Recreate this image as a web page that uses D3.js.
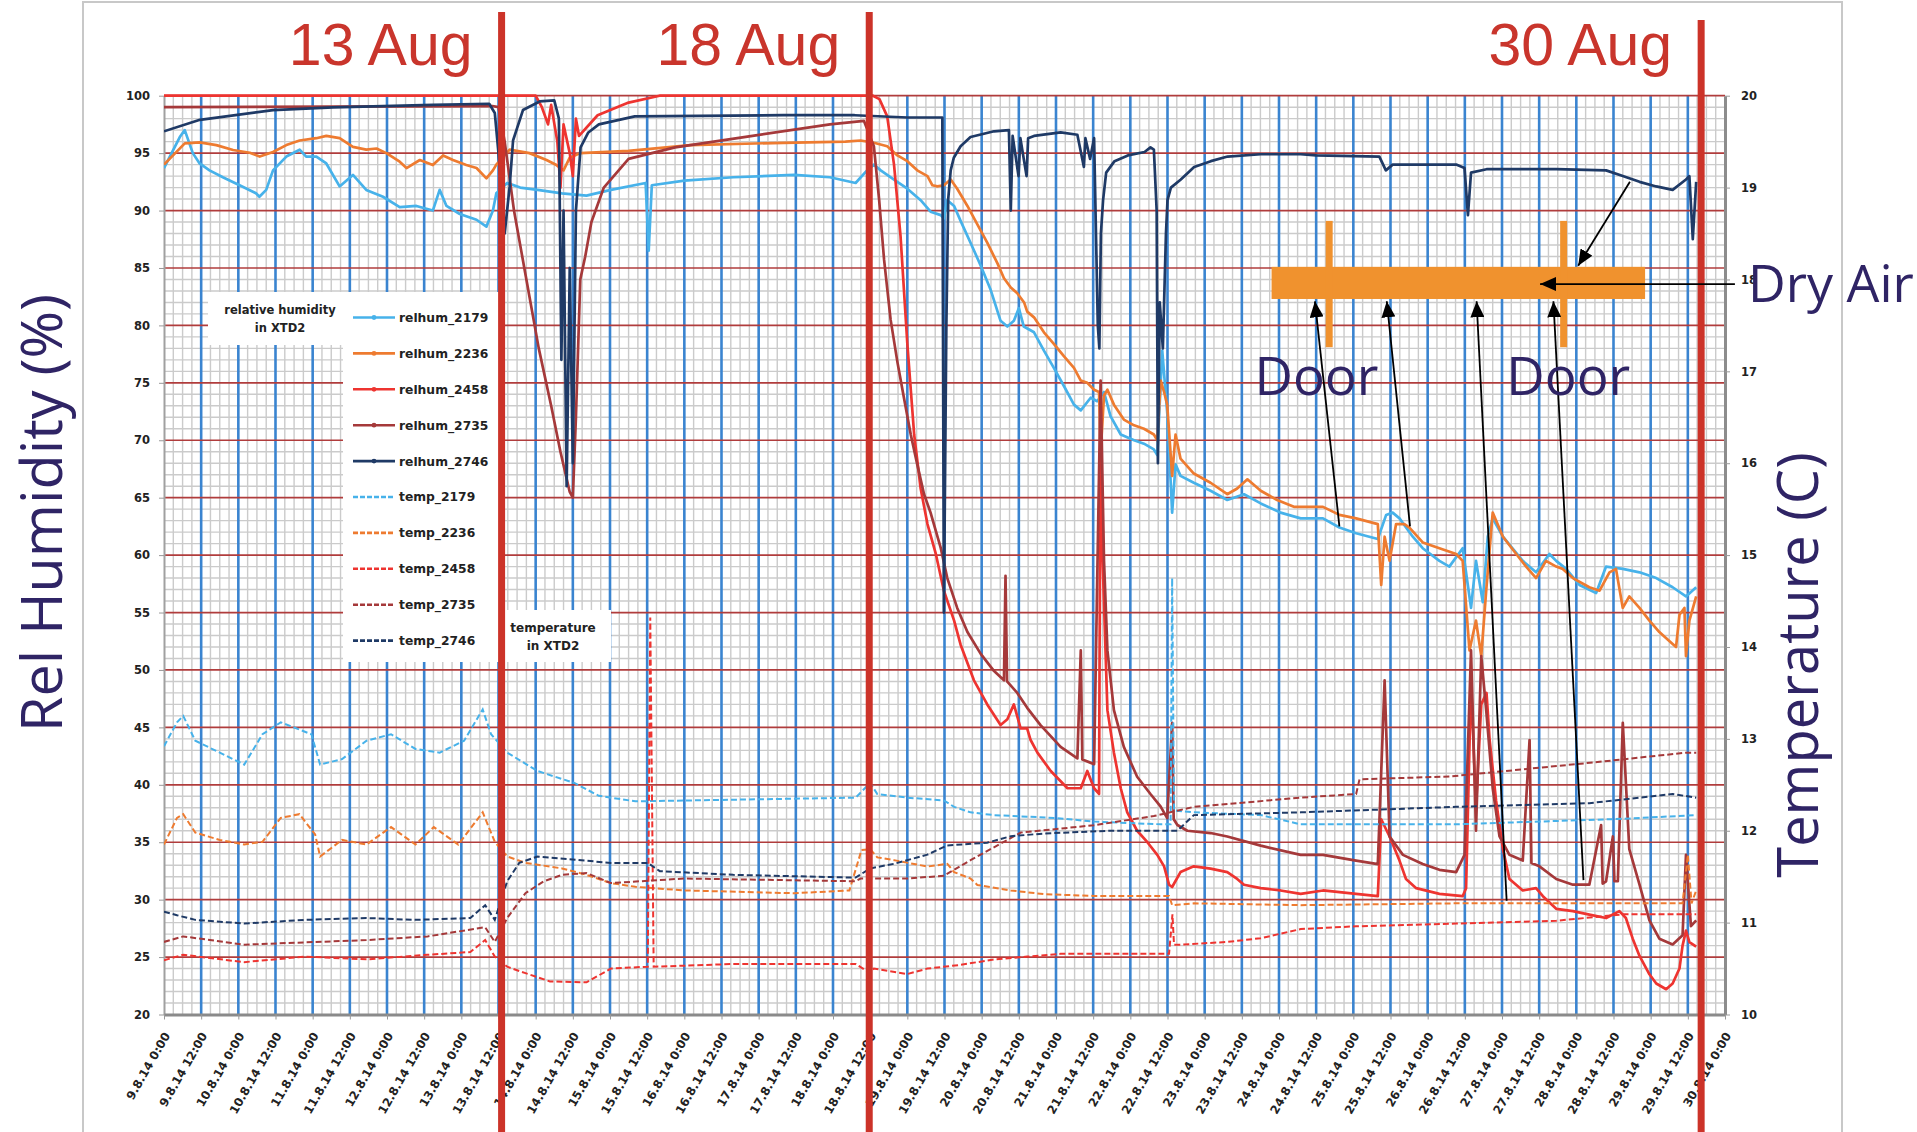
<!DOCTYPE html>
<html><head><meta charset="utf-8">
<script src="https://cdn.jsdelivr.net/npm/d3@7"></script>
<style>body{margin:0;background:#fff}svg{display:block}</style>
</head><body>
<svg id="c" width="1917" height="1132"></svg>
<script>
// ---------- DATA (hours since 9.8.14 0:00) ----------
const xTickLabels = ["9.8.14 0:00","9.8.14 12:00","10.8.14 0:00","10.8.14 12:00","11.8.14 0:00","11.8.14 12:00","12.8.14 0:00","12.8.14 12:00","13.8.14 0:00","13.8.14 12:00","14.8.14 0:00","14.8.14 12:00","15.8.14 0:00","15.8.14 12:00","16.8.14 0:00","16.8.14 12:00","17.8.14 0:00","17.8.14 12:00","18.8.14 0:00","18.8.14 12:00","19.8.14 0:00","19.8.14 12:00","20.8.14 0:00","20.8.14 12:00","21.8.14 0:00","21.8.14 12:00","22.8.14 0:00","22.8.14 12:00","23.8.14 0:00","23.8.14 12:00","24.8.14 0:00","24.8.14 12:00","25.8.14 0:00","25.8.14 12:00","26.8.14 0:00","26.8.14 12:00","27.8.14 0:00","27.8.14 12:00","28.8.14 0:00","28.8.14 12:00","29.8.14 0:00","29.8.14 12:00","30.8.14 0:00"];
const xTickHours = [0,12,24,36,48,60,72,84,96,108,120,132,144,156,168,180,192,204,216,228,240,252,264,276,288,300,312,324,336,348,360,372,384,396,408,420,432,444,456,468,480,492,504];
const rhTicks = [20,25,30,35,40,45,50,55,60,65,70,75,80,85,90,95,100];
const tTicks = [10,11,12,13,14,15,16,17,18,19,20];

const relhum_2179 = [[0,93.7],[5.1,96.4],[6.7,97.0],[9.3,95.0],[11.5,94.1],[14.7,93.5],[19,92.9],[24.4,92.2],[29.7,91.5],[30.8,91.2],[33,91.8],[35.2,93.5],[39.5,94.7],[43.8,95.3],[45.9,94.7],[49.2,94.7],[52.4,94.1],[56.7,92.1],[61,93.1],[65.3,91.8],[70.7,91.2],[76.1,90.3],[81.5,90.4],[86.8,90.0],[89,91.8],[91.2,90.4],[95.5,89.7],[100.9,89.2],[104.1,88.6],[106.2,90.0],[107.3,91.5],[110.8,92.4],[115,92.0],[120.6,91.8],[128.5,91.5],[136.4,91.3],[144.3,91.8],[155.5,92.4],[156.5,86.5],[157.5,92.2],[168,92.6],[183.8,92.9],[203.5,93.1],[215,92.9],[223.3,92.4],[227,93.5],[229.2,94.0],[231.4,93.5],[235.7,92.7],[240,91.9],[244.3,90.9],[247.5,89.9],[250.8,89.6],[251.8,89.3],[252.9,90.9],[255.1,90.4],[257.2,89.1],[260.4,87.2],[263.7,85.2],[266.9,83.1],[270.1,80.4],[272.3,79.9],[274.4,80.4],[276,81.5],[277.6,79.9],[280.9,79.4],[284.1,77.8],[287.3,76.3],[290.6,74.7],[293.8,73.1],[296,72.6],[299.2,73.7],[301.3,73.4],[303.5,74.2],[305.6,72.1],[308.9,70.5],[313.2,70.0],[316.4,69.7],[319.6,69.2],[320.7,68.7],[322.3,77.8],[324,72.1],[325.5,63.7],[326.6,67.9],[328.2,66.9],[332.5,66.3],[337.9,65.6],[343.3,64.8],[348.7,65.3],[354.1,64.5],[360.5,63.7],[367,63.2],[374.2,63.2],[379.5,62.4],[384.9,61.9],[391.9,61.4],[394.6,63.5],[396.7,63.7],[398.9,63.2],[403.2,61.6],[406.4,60.6],[411.8,59.5],[415,59.0],[419.3,60.6],[422,55.4],[423.6,59.5],[425.8,55.9],[427.4,61.6],[429,63.2],[432.3,61.6],[438.7,59.5],[443,58.5],[447.3,60.1],[449.5,59.5],[452.7,58.8],[457,57.4],[462.4,56.7],[465.6,59.0],[471,58.8],[476.4,58.5],[481.8,58.0],[487.1,57.2],[491.4,56.4],[494.7,57.2]];

const relhum_2236 = [[0,94.0],[6.7,95.85],[11.5,95.94],[16.9,95.7],[22.3,95.27],[27.7,95.03],[30.9,94.7],[35.2,95.1],[39.5,95.7],[43.8,96.1],[49.2,96.3],[52.4,96.5],[56.7,96.3],[61,95.55],[65.3,95.3],[68.6,95.4],[71.8,95.0],[76.1,94.25],[78.3,93.7],[82.6,94.4],[86.8,93.96],[90.1,94.8],[93.3,94.4],[97.6,93.96],[100.9,93.7],[104.1,92.8],[106.2,93.5],[107.3,94.0],[111.6,95.3],[118,95.0],[123.5,94.4],[126.7,93.96],[129,93.5],[131,94.6],[134.4,95.0],[150,95.2],[170,95.7],[200,95.9],[220,96.0],[224.9,96.1],[229.2,95.9],[233.5,95.6],[236.8,94.8],[240,94.3],[243.2,93.5],[246.5,93.0],[248.1,92.2],[249.7,92.1],[251.8,92.2],[254,92.7],[256.1,91.9],[259.4,90.4],[262.6,88.8],[265.8,87.2],[269.1,85.4],[271.2,84.1],[273.4,83.3],[275.5,82.8],[277.7,82.0],[278.7,81.2],[280.9,80.7],[284.1,79.4],[287.3,78.4],[290.6,77.3],[293.8,76.3],[296,75.2],[298.1,75.0],[300.3,74.4],[301.9,74.2],[302.4,68.9],[303.5,73.9],[304.6,74.4],[306.7,73.1],[309.9,71.8],[313.2,71.3],[316.4,71.0],[319.6,70.5],[320.7,70.0],[321.8,75.2],[322.9,74.2],[323.9,73.1],[325.5,66.9],[326.6,70.5],[328.2,68.4],[332.5,67.1],[337.9,66.3],[343.3,65.3],[346.5,65.8],[349.8,66.6],[354.1,65.6],[359.4,64.8],[364.8,64.2],[368.8,64.2],[374.2,64.2],[379.5,63.5],[384.9,63.2],[391.9,62.7],[393,57.4],[394.1,61.6],[395.7,59.5],[397.8,62.7],[400.5,62.7],[402.1,62.4],[406.4,61.1],[411.8,60.6],[417.2,60.1],[419.3,59.5],[421.5,51.7],[423.6,54.3],[425.3,51.2],[426.9,56.9],[429,63.7],[432.3,61.6],[436.6,60.1],[439.8,59.0],[443,58.0],[446.2,59.5],[449.5,59.0],[451.6,58.8],[454.9,58.0],[460.2,57.2],[463.5,56.9],[466.7,58.5],[468.8,58.8],[471,55.4],[473.1,56.4],[476.4,55.4],[479.6,54.3],[482.8,53.3],[486.1,52.5],[488.2,52.0],[489.3,54.8],[490.9,55.4],[491.4,51.2],[492.5,54.3],[494.7,56.4]];

const relhum_2458 = [[0,100],[120,100],[122,99],[124,97.5],[125,99.2],[127,96],[128,92],[129,97.5],[131,95],[132,93],[133,98],[134,96.5],[140,98.3],[150,99.4],[160,100],[228.9,100],[231,99.7],[233.5,98.2],[235.7,94],[237.8,87.8],[240,78.4],[242.2,70.5],[244.3,65.8],[246.5,62.7],[249.2,60.1],[251.8,56.9],[255.1,54.3],[257.2,52.2],[261.5,49.1],[265.8,47.0],[270.1,45.2],[272.3,45.7],[274.4,47.0],[276.6,44.9],[278.7,44.9],[279.8,43.9],[282,42.8],[286.3,41.2],[291.7,39.7],[296,39.7],[298.1,41.2],[300.3,39.7],[301.9,39.2],[302.4,74.2],[303,60],[304.6,46.5],[306.7,42.8],[308.9,39.7],[311,37.6],[314.2,36.0],[317.5,35.0],[320.7,33.9],[322.9,32.9],[324.5,31.3],[325.5,31.1],[328.2,32.4],[332.5,32.9],[337.9,32.7],[343.3,32.4],[346.5,31.8],[348.7,31.3],[354.1,31.0],[360.5,30.8],[367,30.5],[374.2,30.8],[384.9,30.5],[391.9,30.3],[393,37],[395.7,35.5],[398.9,33.4],[401,31.8],[404.3,31.0],[411.8,30.5],[419.3,30.3],[420.4,31],[422,49],[423.6,38],[425.3,47],[427,48],[428,43.9],[430.1,38.6],[432.3,34.4],[434.4,31.8],[438.7,30.8],[443,31.0],[445.2,30.3],[449.5,29.2],[454.9,29.0],[460.2,28.7],[465.6,28.4],[469.9,29.0],[472,28.4],[474.2,26.6],[476.4,25.1],[479.6,23.5],[481.8,22.7],[485,22.2],[487.1,22.7],[489.3,24.0],[490.3,26],[491.4,27.3],[492.5,26.3],[494.7,25.9]];

const relhum_2735 = [[0,99.0],[106,99.1],[108,99],[110,96],[113,90],[117,84],[121,78],[125,73],[128,69],[131,65.5],[132,65],[133,72],[134.4,84],[136,86],[138,89],[142,92],[150,94.5],[165,95.5],[190,96.5],[215,97.5],[226,97.8],[229.2,95.6],[230.9,90.9],[232.5,85.7],[234.6,80.5],[236.8,76.8],[238.9,73.7],[241.1,70.5],[243.2,67.9],[245.4,65.3],[247.5,63.7],[250.8,60.6],[252.9,58.0],[256.1,55.4],[259.4,53.3],[263.7,51.4],[268,49.9],[271.2,49.1],[271.7,58.2],[272.2,49],[275.5,48.0],[278.7,46.7],[283,45.2],[289.5,43.3],[294.9,42.3],[296,51.7],[296.5,42.2],[300.3,41.8],[302.4,75.2],[303.5,59.5],[304.6,51.7],[306.7,46.5],[309.9,43.3],[314.2,40.7],[318.5,39.2],[321.8,38.1],[323.9,37.1],[325.5,45.4],[326,37],[327.2,36.5],[330.4,36.0],[337.9,35.8],[343.3,35.5],[354.1,34.7],[367,33.9],[374.2,33.9],[384.9,33.4],[391.9,33.1],[394.1,49.1],[395.7,35.5],[400,33.9],[406.4,33.1],[411.8,32.6],[417.2,32.4],[419.9,33.9],[422,51.7],[423.6,36.0],[425.3,51.2],[426.9,46.5],[429,39.7],[431.2,35.5],[434.4,33.9],[438.7,33.4],[440.9,43.9],[441.5,33.2],[444.1,32.9],[449.5,31.8],[454.9,31.3],[460.2,31.3],[464,36.5],[464.5,31.4],[465.6,31.6],[467.8,35.5],[468.3,31.6],[469.4,31.6],[471,45.4],[473.1,34.4],[476.4,31.3],[479.6,28.2],[482.8,26.6],[487.1,26.1],[490.3,26.9],[491.4,33.9],[493,27.7],[494.7,28.2]];

const relhum_2746 = [[0,96.9],[11.6,97.9],[35.2,98.75],[54.6,98.99],[86.8,99.2],[105,99.3],[106.8,98.5],[108,95],[110,88],[111.6,92.1],[112.7,96.1],[115.9,98.75],[121.3,99.5],[126,99.6],[127.5,98],[128.3,77],[129,90],[130,66],[131,85],[132,68],[133,90],[134.5,95.5],[137,96.8],[140.4,97.5],[152,98.2],[200,98.3],[223,98.3],[240,98.1],[251.3,98.1],[251.8,55],[252.6,80],[253.2,91],[254,93.5],[255,94.6],[257.2,95.6],[260.4,96.4],[268,96.9],[272.8,97.0],[273.4,90],[274,96.5],[275.9,93],[276.5,96.3],[278.5,93],[279,96.3],[280.9,96.5],[289.5,96.8],[294.9,96.6],[297,93.8],[297.5,96.3],[299,94.5],[300.3,96.3],[301.5,80],[302,78],[302.5,88],[303.2,90.9],[304.2,93.3],[306.9,94.3],[311.2,94.8],[316.6,95.1],[318.5,95.5],[319.6,95.3],[320.5,90],[320.9,68],[321.5,82],[322.5,78],[323.5,88],[324,90.9],[325.1,92],[328.3,92.7],[332.6,93.8],[338,94.3],[343.4,94.7],[354.1,94.9],[367,94.9],[372,94.8],[392.4,94.7],[394.5,93.5],[396.7,94],[417.2,94],[419.9,93.7],[421,89.6],[422,93.3],[427,93.6],[449.5,93.6],[465.6,93.5],[471,93.0],[476.4,92.5],[481.8,92.1],[487.1,91.8],[491.4,92.7],[492.5,93],[493.6,87.5],[494.7,92.5]];

const temp_2179 = [[0,12.92],[4.2,13.18],[6.2,13.25],[10.1,12.98],[18,12.85],[25.9,12.72],[31.8,13.05],[37.7,13.18],[47.6,13.05],[50.4,12.72],[57.5,12.78],[65.4,12.98],[73.3,13.05],[81.2,12.89],[89,12.85],[96.9,12.98],[102.9,13.32],[105.6,13.05],[110.8,12.85],[120.6,12.65],[132.5,12.52],[140.4,12.38],[152.2,12.32],[223.3,12.36],[228,12.52],[230.3,12.4],[240,12.36],[251.8,12.33],[255.1,12.26],[260.4,12.2],[268,12.17],[287.3,12.14],[300.3,12.1],[321.8,12.07],[325,12.07],[325.5,14.75],[326.1,12.22],[332.5,12.2],[354.1,12.17],[367,12.07],[417.2,12.07],[471,12.13],[494.7,12.17]];
const temp_2236 = [[0,11.85],[4.2,12.14],[6.2,12.18],[10.1,11.98],[18,11.9],[25.9,11.85],[31.8,11.88],[37.7,12.14],[43.7,12.18],[48.8,11.96],[50.4,11.72],[57.5,11.9],[65.4,11.85],[73.3,12.04],[81.2,11.85],[87.1,12.04],[95,11.85],[102.9,12.2],[106.8,11.88],[110.8,11.72],[116.7,11.65],[128.5,11.59],[136.4,11.52],[144.3,11.43],[152.2,11.39],[168,11.35],[203.5,11.32],[221.3,11.35],[225.2,11.79],[228,11.8],[230.3,11.71],[235.7,11.68],[246.5,11.61],[252.9,11.64],[255.1,11.55],[260.4,11.48],[262.6,11.41],[273.4,11.35],[284.1,11.31],[300.3,11.29],[324.5,11.29],[325.5,11.19],[332.5,11.21],[367,11.19],[417.2,11.21],[490.3,11.21],[492,11.74],[493.2,11.21],[494.7,11.35]];
const temp_2458 = [[0,10.59],[6.2,10.65],[25.9,10.57],[45.6,10.63],[65.4,10.6],[85.1,10.65],[98.9,10.68],[103.7,10.81],[106.8,10.63],[110.8,10.52],[116.7,10.45],[124.6,10.36],[136.4,10.35],[144.3,10.5],[156.2,10.52],[157,14.32],[158.1,10.52],[183.8,10.55],[223.3,10.55],[228,10.45],[229.2,10.5],[240,10.44],[246.5,10.5],[257.2,10.54],[268,10.6],[278.7,10.63],[289.5,10.66],[324.5,10.66],[325.6,11.09],[326.1,10.76],[328.2,10.76],[343.3,10.79],[354.1,10.83],[367,10.93],[384.9,10.96],[417.2,10.99],[449.5,11.02],[471,11.09],[494.7,11.09]];
const temp_2735 = [[0,10.79],[6.2,10.85],[25.9,10.76],[65.4,10.81],[85.1,10.85],[103.7,10.95],[106.8,10.79],[110.8,11.05],[116.7,11.32],[122.6,11.45],[128.5,11.52],[136.4,11.54],[144.3,11.43],[168,11.48],[223.3,11.45],[224.9,11.48],[240,11.48],[251.8,11.51],[260.4,11.68],[276.6,11.98],[300.3,12.06],[319.6,12.16],[332.5,12.26],[367,12.36],[384.9,12.4],[386,12.56],[415,12.59],[463.5,12.75],[491.4,12.85],[494.7,12.85]];
const temp_2746 = [[0,11.12],[4.2,11.08],[10.1,11.03],[25.9,10.99],[45.6,11.03],[65.4,11.05],[81.2,11.03],[98.9,11.05],[103.7,11.19],[106.8,11.03],[110.8,11.45],[114.7,11.65],[120.6,11.72],[144.3,11.65],[156.2,11.65],[160.1,11.56],[183.8,11.52],[223.3,11.49],[228,11.59],[235.7,11.64],[246.5,11.74],[252.9,11.84],[265.8,11.87],[273.4,11.94],[284.1,11.97],[305.6,12.0],[327.2,12.0],[332.5,12.17],[367,12.2],[417.2,12.26],[460.2,12.3],[487.1,12.4],[494.7,12.36]];

const sensors = ["2179","2236","2458","2735","2746"];
const sensorColors = ["#47b2ea","#ee7b30","#ee3430","#a5393a","#1f3a66"];
const markers = [{label:"13 Aug",h:109.0},{label:"18 Aug",h:227.7},{label:"30 Aug",h:496.3}];

// ---------- CHART ----------
const svg = d3.select("#c");
const x = d3.scaleLinear().domain([0,504]).range([164,1725]);
const yL = d3.scaleLinear().domain([20,100]).range([1014.5,95.7]);
const yR = d3.scaleLinear().domain([10,20]).range([1014.5,95.7]);

svg.append("rect").attr("x",83).attr("y",2).attr("width",1759).attr("height",1145)
  .attr("fill","none").attr("stroke","#c8c8c8").attr("stroke-width",2);

const grid = svg.append("g");
grid.selectAll("line.mh").data(d3.range(21,100).filter(v=>v%5)).join("line").attr("class","mh")
  .attr("x1",x(0)).attr("x2",x(504)).attr("y1",d=>yL(d)).attr("y2",d=>yL(d))
  .attr("stroke","#cbcbcb").attr("stroke-width",1.4);
grid.selectAll("line.mv").data(d3.range(3,504,3).filter(v=>v%12)).join("line").attr("class","mv")
  .attr("y1",yL(20)).attr("y2",yL(100)).attr("x1",d=>x(d)).attr("x2",d=>x(d))
  .attr("stroke","#cbcbcb").attr("stroke-width",1.4);
grid.selectAll("line.Mv").data(d3.range(12,504,12)).join("line").attr("class","Mv")
  .attr("y1",yL(20)).attr("y2",yL(100)).attr("x1",d=>x(d)).attr("x2",d=>x(d))
  .attr("stroke","#3a84d0").attr("stroke-width",2.6);
grid.selectAll("line.Mh").data(d3.range(25,101,5)).join("line").attr("class","Mh")
  .attr("x1",x(0)).attr("x2",x(504)).attr("y1",d=>yL(d)).attr("y2",d=>yL(d))
  .attr("stroke","#b03c3c").attr("stroke-width",1.7);

// axes
const tickFont = g => g.selectAll("text").attr("font-family","DejaVu Sans").attr("font-weight","bold").attr("fill","#222");
const axL = svg.append("g").attr("transform",`translate(${x(0)},0)`)
  .call(d3.axisLeft(yL).tickValues(rhTicks).tickSize(5).tickSizeOuter(0).tickPadding(9));
axL.call(tickFont).selectAll("text").attr("font-size",11.5);
axL.select(".domain").attr("stroke","#a0a0a0").attr("stroke-width",2);
axL.selectAll(".tick line").attr("stroke","#999");
const axR = svg.append("g").attr("transform",`translate(${x(504)},0)`)
  .call(d3.axisRight(yR).tickValues(tTicks).tickSize(5).tickSizeOuter(0).tickPadding(11));
axR.call(tickFont).selectAll("text").attr("font-size",11.5);
axR.select(".domain").attr("stroke","#8c8c8c").attr("stroke-width",3);
axR.selectAll(".tick line").attr("stroke","#999");
const axB = svg.append("g").attr("transform",`translate(0,${yL(20)})`)
  .call(d3.axisBottom(x).tickValues(xTickHours).tickFormat((d,i)=>xTickLabels[i]).tickSize(5).tickSizeOuter(0));
axB.call(tickFont).selectAll("text").attr("font-size",11.8).attr("x",0).attr("y",0).attr("dy",0)
  .attr("text-anchor","end").attr("transform","translate(6,21) rotate(-60)");
axB.select(".domain").attr("stroke","#8a8a8a").attr("stroke-width",3);
axB.selectAll(".tick line").attr("stroke","#999");

// data
svg.append("clipPath").attr("id","pc").append("rect")
  .attr("x",x(0)).attr("y",yL(100)-3).attr("width",x(504)-x(0)).attr("height",yL(20)-yL(100)+3);
const lineRH = d3.line().x(d=>x(d[0])).y(d=>yL(d[1]));
const lineT = d3.line().x(d=>x(d[0])).y(d=>yR(d[1]));
const rhSeries = [relhum_2179,relhum_2236,relhum_2458,relhum_2735,relhum_2746];
const tSeries = [temp_2179,temp_2236,temp_2458,temp_2735,temp_2746];
const dg = svg.append("g").attr("clip-path","url(#pc)");
rhSeries.forEach((s,i)=>dg.append("path").datum(s).attr("d",lineRH).attr("fill","none")
  .attr("stroke",sensorColors[i]).attr("stroke-width",2.7).attr("stroke-linejoin","round"));
tSeries.forEach((s,i)=>dg.append("path").datum(s).attr("d",lineT).attr("fill","none")
  .attr("stroke",sensorColors[i]).attr("stroke-width",2).attr("stroke-dasharray","6,3"));

// legend
const lg = svg.append("g").attr("font-family","DejaVu Sans").attr("font-weight","bold").attr("fill","#222");
lg.append("rect").attr("x",208).attr("y",292).attr("width",135).attr("height",53).attr("fill","#fff");
lg.append("rect").attr("x",343).attr("y",292).attr("width",157).attr("height",370).attr("fill","#fff");
lg.append("rect").attr("x",500).attr("y",610).attr("width",111).attr("height",52).attr("fill","#fff");
lg.append("text").attr("x",280).attr("y",313.5).attr("text-anchor","middle").attr("font-size",11.5).text("relative humidity");
lg.append("text").attr("x",280).attr("y",332).attr("text-anchor","middle").attr("font-size",11.5).text("in XTD2");
lg.append("text").attr("x",553).attr("y",632).attr("text-anchor","middle").attr("font-size",12).text("temperature");
lg.append("text").attr("x",553).attr("y",649.5).attr("text-anchor","middle").attr("font-size",12).text("in XTD2");
const legendItems = sensors.map((s,i)=>({name:"relhum_"+s,color:sensorColors[i],dash:false}))
  .concat(sensors.map((s,i)=>({name:"temp_"+s,color:sensorColors[i],dash:true})));
legendItems.forEach((it,i)=>{
  const yy = 317.5 + i*35.9;
  lg.append("line").attr("x1",353).attr("x2",395).attr("y1",yy).attr("y2",yy)
    .attr("stroke",it.color).attr("stroke-width",2.6).attr("stroke-dasharray",it.dash?"5,2":null);
  if(!it.dash) lg.append("circle").attr("cx",374).attr("cy",yy).attr("r",2.4).attr("fill",it.color);
  lg.append("text").attr("x",399).attr("y",yy).attr("dy","0.36em").attr("font-size",12.3).text(it.name);
});

// red date markers
markers.forEach((m,i)=>{
  svg.append("line").attr("x1",x(m.h)).attr("x2",x(m.h)).attr("y1",i==2?20:12).attr("y2",1132)
    .attr("stroke","#cc3329").attr("stroke-width",7);
  svg.append("text").attr("x",x(m.h)-29).attr("y",65).attr("text-anchor","end")
    .attr("font-family","Liberation Sans, Arial").attr("font-size",59).attr("fill","#c9352c").text(m.label);
});

// annotations
const purple = "#2f2465";
const ann = svg.append("g");
ann.append("rect").attr("x",x(357.6)).attr("y",yL(85.1)).attr("width",x(478.2)-x(357.6)).attr("height",yL(82.3)-yL(85.1)).attr("fill","#f0922e");
[376.2,451.9].forEach(h=>ann.append("line").attr("x1",x(h)).attr("x2",x(h)).attr("y1",yL(89.1)).attr("y2",yL(78.1))
  .attr("stroke","#f0922e").attr("stroke-width",7));
svg.append("defs").append("marker").attr("id","ah").attr("viewBox","0 0 16 14").attr("refX",16).attr("refY",7)
  .attr("markerWidth",16).attr("markerHeight",14).attr("markerUnits","userSpaceOnUse").attr("orient","auto")
  .append("path").attr("d","M0,0 L16,7 L0,14 Z").attr("fill","#000");
const arrows = [[379.5,62.5,371.6,82.1],[402.3,62.5,394.8,82.1],[433.5,29.9,423.8,82.1],[458.3,31.7,448.6,82.1],[473.3,92.5,456.6,85.2],[507.2,83.6,444.3,83.6]];
arrows.forEach(a=>ann.append("line").attr("x1",x(a[0])).attr("y1",yL(a[1])).attr("x2",x(a[2])).attr("y2",yL(a[3]))
  .attr("stroke","#000").attr("stroke-width",1.8).attr("marker-end","url(#ah)"));
[372.1,453.4].forEach(h=>ann.append("text").attr("x",x(h)).attr("y",yL(73.9)).attr("text-anchor","middle")
  .attr("font-family","Open Sans").attr("font-size",53).attr("fill",purple).text("Door"));
svg.append("text").attr("x",1748).attr("y",302).attr("font-family","Open Sans").attr("font-size",52).attr("fill",purple).text("Dry Air");
svg.append("text").attr("transform","translate(62,513) rotate(-90)").attr("text-anchor","middle")
  .attr("font-family","Open Sans").attr("font-size",57.5).attr("fill",purple).text("Rel Humidity (%)");
svg.append("text").attr("transform","translate(1818,665) rotate(-90)").attr("text-anchor","middle")
  .attr("font-family","Open Sans").attr("font-size",56).attr("fill",purple).text("Temperature (C)");
</script>
</body></html>
